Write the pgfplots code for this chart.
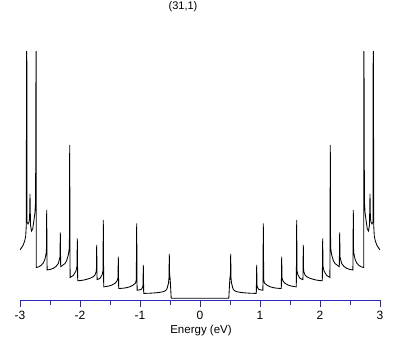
\documentclass[border=0pt]{standalone}
\usepackage{pgfplots}
\pgfplotsset{compat=1.18}
\usepackage{fontspec}
\setmainfont{Liberation Sans}
\definecolor{axblue}{RGB}{40,40,190}
\begin{document}
\begin{tikzpicture}
\path[use as bounding box] (0,0) rectangle (409pt,345pt);
\begin{axis}[
  scale only axis,
  width=360pt, height=248pt,
  at={(20pt,45pt)}, anchor=south west,
  xmin=-3, xmax=3, ymin=0, ymax=4.96,
  axis x line=bottom, axis y line=none,
  x axis line style={axblue, -, line width=0.8pt},
  xtick={-3,-2,-1,0,1,2,3},
  xticklabels={-3,-2,-1,0,1,2,3},
  minor xtick={-2.5,-1.5,-0.5,0.5,1.5,2.5},
  tick align=outside,
  major tick length=7pt, minor tick length=5pt,
  tick style={axblue, line width=0.8pt},
  xticklabel style={font=\fontsize{12}{14}\selectfont, text=black, yshift=-0.5pt},
]
\addplot[black, line width=0.85pt] table {
E D
-3.0000 1.00
-2.9500 1.09
-2.9217 1.18
-2.9050 1.28
-2.8950 1.50
-2.8883 7
-2.8833 1.56
-2.8667 1.52
-2.8500 1.56
-2.8400 1.64
-2.8333 2.12
-2.8250 1.50
-2.8083 1.38
-2.7883 1.42
-2.7667 1.60
-2.7500 1.76
-2.7392 2.00
-2.7375 4.10
-2.7358 1.90
-2.7333 7
-2.7283 0.65
-2.6950 0.66
-2.6500 0.69
-2.6117 0.74
-2.5833 0.82
-2.5600 0.96
-2.5550 1.80
-2.5483 0.60
-2.5000 0.61
-2.4450 0.634
-2.4000 0.67
-2.3617 0.73
-2.3333 0.86
-2.3283 1.354
-2.3217 0.666
-2.2500 0.73
-2.2217 0.79
-2.1950 0.90
-2.1767 1.04
-2.1717 3.10
-2.1650 0.45
-2.1117 0.49
-2.0667 0.58
-2.0500 0.68
-2.0450 1.234
-2.0383 0.384
-1.9500 0.396
-1.8883 0.414
-1.8333 0.434
-1.7783 0.466
-1.7500 0.50
-1.7267 0.58
-1.7217 1.10
-1.7150 0.408
-1.7000 0.414
-1.6667 0.434
-1.6333 0.50
-1.6167 0.58
-1.6117 1.60
-1.6050 0.262
-1.5833 0.266
-1.5167 0.28
-1.4667 0.30
-1.4167 0.334
-1.3833 0.38
-1.3667 0.44
-1.3617 0.866
-1.3550 0.23
-1.2783 0.236
-1.2167 0.248
-1.1667 0.266
-1.1117 0.30
-1.0750 0.34
-1.0617 0.40
-1.0550 1.534
-1.0483 0.196
-1.0167 0.20
-0.9833 0.21
-0.9617 0.24
-0.9500 0.29
-0.9450 0.70
-0.9383 0.132
-0.8333 0.136
-0.7333 0.144
-0.6667 0.154
-0.6167 0.166
-0.5833 0.18
-0.5550 0.21
-0.5417 0.26
-0.5250 0.34
-0.5167 0.44
-0.5117 0.92
-0.5067 0.50
-0.5000 0.46
-0.4917 0.30
-0.4800 0.034
0.4800 0.034
0.4917 0.30
0.5000 0.46
0.5067 0.50
0.5117 0.92
0.5167 0.44
0.5250 0.34
0.5417 0.26
0.5550 0.21
0.5833 0.18
0.6167 0.166
0.6667 0.154
0.7333 0.144
0.8333 0.136
0.9383 0.132
0.9450 0.70
0.9500 0.29
0.9617 0.24
0.9833 0.21
1.0167 0.20
1.0483 0.196
1.0550 1.534
1.0617 0.40
1.0750 0.34
1.1117 0.30
1.1667 0.266
1.2167 0.248
1.2783 0.236
1.3550 0.23
1.3617 0.866
1.3667 0.44
1.3833 0.38
1.4167 0.334
1.4667 0.30
1.5167 0.28
1.5833 0.266
1.6050 0.262
1.6117 1.60
1.6167 0.58
1.6333 0.50
1.6667 0.434
1.7000 0.414
1.7150 0.408
1.7217 1.10
1.7267 0.58
1.7500 0.50
1.7783 0.466
1.8333 0.434
1.8883 0.414
1.9500 0.396
2.0383 0.384
2.0450 1.234
2.0500 0.68
2.0667 0.58
2.1117 0.49
2.1650 0.45
2.1717 3.10
2.1767 1.04
2.1950 0.90
2.2217 0.79
2.2500 0.73
2.3217 0.666
2.3283 1.354
2.3333 0.86
2.3617 0.73
2.4000 0.67
2.4450 0.634
2.5000 0.61
2.5483 0.60
2.5550 1.80
2.5600 0.96
2.5833 0.82
2.6117 0.74
2.6500 0.69
2.6950 0.66
2.7283 0.65
2.7333 7
2.7358 1.90
2.7375 4.10
2.7392 2.00
2.7500 1.76
2.7667 1.60
2.7883 1.42
2.8083 1.38
2.8250 1.50
2.8333 2.12
2.8400 1.64
2.8500 1.56
2.8667 1.52
2.8833 1.56
2.8883 7
2.8950 1.50
2.9050 1.28
2.9217 1.18
2.9500 1.09
3.0000 1.00
};
\end{axis}
\node[font=\fontsize{11}{13}\selectfont] at (183pt,338pt) {(31,1)};
\node[font=\fontsize{11.5}{13}\selectfont] at (201pt,14pt) {Energy (eV)};
\end{tikzpicture}
\end{document}
